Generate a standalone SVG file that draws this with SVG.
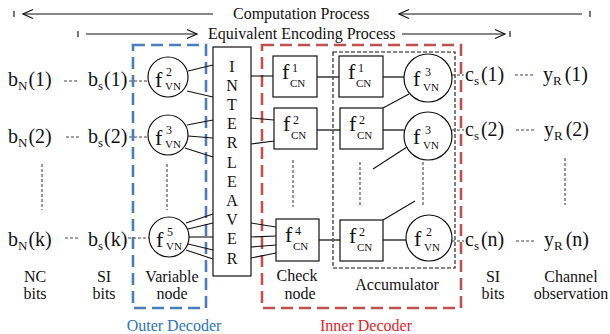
<svg xmlns="http://www.w3.org/2000/svg" width="610" height="334" viewBox="0 0 610 334">
  <style>
    text { font-family: "Liberation Serif", "Times New Roman", serif; fill: #111; }
    .t16 { font-size: 16px; }
    .big { font-size: 20px; }
    .sb { font-size: 13px; }
    .f { font-size: 22px; }
    .sup { font-size: 12px; }
    .sub { font-size: 11px; }
    .mid { text-anchor: middle; }
    .node { fill: #fff; stroke: #111; stroke-width: 1.2; }
    .edge { stroke: #111; stroke-width: 1.1; fill: none; }
    .link { stroke: #444; stroke-width: 1.6; fill: none; }
    .dots { stroke: #444; stroke-width: 1.1; stroke-dasharray: 3 2; fill: none; }
    .tick { stroke: #555; stroke-width: 1.6; }
    .arrow { stroke: #111; stroke-width: 1.2; fill: none; }
    .outer { fill: none; stroke: #4a7ebb; stroke-width: 2.6; stroke-dasharray: 12 6; }
    .inner { fill: none; stroke: #c0504d; stroke-width: 2.6; stroke-dasharray: 12 6; }
    .acc { fill: none; stroke: #111; stroke-width: 1.1; stroke-dasharray: 4 2; }
  </style>

  <!-- process arrows -->
  <g id="process-arrows">
    <line class="tick" x1="14" y1="11" x2="14" y2="17"/>
    <line class="arrow" x1="23" y1="14" x2="213" y2="14"/>
    <polyline class="arrow" points="33,9.5 23,14 33,18.5"/>
    <text class="t16" x="233" y="19">Computation Process</text>
    <line class="arrow" x1="399" y1="14" x2="582" y2="14"/>
    <polyline class="arrow" points="409,9.5 399,14 409,18.5"/>
    <line class="tick" x1="590" y1="11" x2="590" y2="17"/>

    <line class="tick" x1="78" y1="31" x2="78" y2="37"/>
    <line class="arrow" x1="86" y1="34" x2="197" y2="34"/>
    <polyline class="arrow" points="187,29.5 197,34 187,38.5"/>
    <text class="t16" x="208" y="39">Equivalent Encoding Process</text>
    <line class="arrow" x1="402" y1="34" x2="505" y2="34"/>
    <polyline class="arrow" points="495,29.5 505,34 495,38.5"/>
    <line class="tick" x1="510" y1="31" x2="510" y2="37"/>
  </g>

  <!-- decoder regions -->
  <g id="outer-decoder">
    <rect class="outer" x="133" y="45" width="73" height="263"/>
    <text class="t16 mid" x="174" y="331" style="fill:#2e75b6">Outer Decoder</text>
  </g>
  <g id="inner-decoder">
    <rect class="inner" x="262" y="45" width="199" height="263"/>
    <text class="t16 mid" x="366" y="331" style="fill:#e0242a">Inner Decoder</text>
  </g>
  <g id="accumulator">
    <rect class="acc" x="333" y="52" width="122" height="216"/>
    <text class="t16 mid" x="397" y="290">Accumulator</text>
  </g>

  <!-- connectors -->
  <g id="connectors">
    <!-- variable nodes to interleaver -->
    <line class="edge" x1="188" y1="71" x2="213" y2="65"/>
    <line class="edge" x1="187" y1="91" x2="213" y2="97"/>
    <line class="edge" x1="187" y1="125" x2="213" y2="120"/>
    <line class="edge" x1="188" y1="136" x2="213" y2="138"/>
    <line class="edge" x1="185" y1="148" x2="213" y2="157"/>
    <line class="edge" x1="186" y1="223" x2="213" y2="214"/>
    <line class="edge" x1="188" y1="229" x2="213" y2="223"/>
    <line class="edge" x1="189" y1="237" x2="213" y2="237"/>
    <line class="edge" x1="188" y1="244" x2="213" y2="250"/>
    <line class="edge" x1="186" y1="250" x2="213" y2="259"/>
    <!-- interleaver to check nodes -->
    <line class="edge" x1="251" y1="76" x2="273" y2="76"/>
    <line class="edge" x1="251" y1="118" x2="274" y2="120"/>
    <line class="edge" x1="251" y1="144" x2="274" y2="141"/>
    <line class="edge" x1="251" y1="223" x2="276" y2="227"/>
    <line class="edge" x1="251" y1="237" x2="276" y2="236"/>
    <line class="edge" x1="251" y1="247" x2="276" y2="245"/>
    <line class="edge" x1="251" y1="258" x2="276" y2="253"/>
    <!-- check nodes to accumulator -->
    <line class="link" x1="317" y1="77" x2="339" y2="77"/>
    <line class="link" x1="317" y1="130" x2="340" y2="130"/>
    <line class="link" x1="319" y1="240" x2="340" y2="240"/>
    <line class="link" x1="383" y1="77" x2="404" y2="77"/>
    <line class="link" x1="383" y1="130" x2="404" y2="130"/>
    <line class="link" x1="383" y1="240" x2="406" y2="240"/>
    <line class="edge" x1="383" y1="108" x2="409" y2="94"/>
    <line class="edge" x1="407" y1="147" x2="373" y2="169"/>
    <line class="edge" x1="383" y1="220" x2="415" y2="201"/>
    <!-- dashed links between bit labels -->
    <line class="dots" x1="64" y1="81" x2="78" y2="81"/>
    <line class="dots" x1="129" y1="81" x2="148" y2="81"/>
    <line class="dots" x1="66" y1="137" x2="80" y2="137"/>
    <line class="dots" x1="129" y1="137" x2="148" y2="137"/>
    <line class="dots" x1="65" y1="238" x2="80" y2="238"/>
    <line class="dots" x1="128" y1="238" x2="150" y2="238"/>
    <line class="dots" x1="452" y1="75" x2="464" y2="75"/>
    <line class="dots" x1="515" y1="75" x2="533" y2="75"/>
    <line class="dots" x1="452" y1="130" x2="464" y2="130"/>
    <line class="dots" x1="516" y1="130" x2="534" y2="130"/>
    <line class="dots" x1="452" y1="241" x2="464" y2="241"/>
    <line class="dots" x1="516" y1="241" x2="534" y2="241"/>
    <!-- vertical ellipses -->
    <line class="dots" x1="42" y1="164" x2="42" y2="210"/>
    <line class="dots" x1="167" y1="164" x2="167" y2="210"/>
    <line class="dots" x1="293" y1="160" x2="293" y2="207"/>
    <line class="dots" x1="360" y1="162" x2="360" y2="207"/>
    <line class="dots" x1="423" y1="162" x2="423" y2="207"/>
    <line class="dots" x1="565" y1="158" x2="565" y2="205"/>
  </g>

  <!-- NC bits -->
  <g id="nc-bits">
    <text class="big" x="8" y="86">b<tspan class="sb" dy="4">N</tspan><tspan dx="1" dy="-4">(1)</tspan></text>
    <text class="big" x="8" y="143">b<tspan class="sb" dy="4">N</tspan><tspan dx="1" dy="-4">(2)</tspan></text>
    <text class="big" x="8" y="246">b<tspan class="sb" dy="4">N</tspan><tspan dx="1" dy="-4">(k)</tspan></text>
    <text class="t16 mid" x="35" y="282">NC</text>
    <text class="t16 mid" x="35" y="299">bits</text>
  </g>

  <!-- SI bits (source side) -->
  <g id="si-bits-left">
    <text class="big" x="88" y="86">b<tspan class="sb" dy="4">s</tspan><tspan dx="1" dy="-4">(1)</tspan></text>
    <text class="big" x="88" y="143">b<tspan class="sb" dy="4">s</tspan><tspan dx="1" dy="-4">(2)</tspan></text>
    <text class="big" x="88" y="246">b<tspan class="sb" dy="4">s</tspan><tspan dx="1" dy="-4">(k)</tspan></text>
    <text class="t16 mid" x="104" y="282">SI</text>
    <text class="t16 mid" x="104" y="299">bits</text>
  </g>

  <!-- variable nodes -->
  <g id="vn-1">
    <circle class="node" cx="168" cy="77" r="20"/>
    <text><tspan class="f" x="155" y="87">f</tspan><tspan class="sup" x="166" y="76">2</tspan><tspan class="sub" x="165" y="90">VN</tspan></text>
  </g>
  <g id="vn-2">
    <circle class="node" cx="168" cy="135" r="20"/>
    <text><tspan class="f" x="155" y="145">f</tspan><tspan class="sup" x="166" y="134">3</tspan><tspan class="sub" x="165" y="148">VN</tspan></text>
  </g>
  <g id="vn-k">
    <circle class="node" cx="169" cy="237" r="20"/>
    <text><tspan class="f" x="156" y="247">f</tspan><tspan class="sup" x="167" y="236">5</tspan><tspan class="sub" x="166" y="250">VN</tspan></text>
  </g>
  <g id="vn-label">
    <text class="t16 mid" x="172" y="282">Variable</text>
    <text class="t16 mid" x="172" y="299">node</text>
  </g>

  <!-- interleaver -->
  <g id="interleaver">
    <rect class="node" x="213" y="47" width="38" height="229"/>
    <text class="t16 mid" x="232" y="71.5">I</text>
    <text class="t16 mid" x="232" y="90.7">N</text>
    <text class="t16 mid" x="232" y="109.9">T</text>
    <text class="t16 mid" x="232" y="129.1">E</text>
    <text class="t16 mid" x="232" y="148.3">R</text>
    <text class="t16 mid" x="232" y="167.5">L</text>
    <text class="t16 mid" x="232" y="186.7">E</text>
    <text class="t16 mid" x="232" y="205.9">A</text>
    <text class="t16 mid" x="232" y="225.1">V</text>
    <text class="t16 mid" x="232" y="244.3">E</text>
    <text class="t16 mid" x="232" y="263.5">R</text>
  </g>

  <!-- check nodes -->
  <g id="cn-1">
    <rect class="node" x="273" y="56" width="44" height="41"/>
    <text><tspan class="f" x="282" y="79">f</tspan><tspan class="sup" x="292" y="72">1</tspan><tspan class="sub" x="290" y="87">CN</tspan></text>
  </g>
  <g id="cn-2">
    <rect class="node" x="274" y="108" width="43" height="41"/>
    <text><tspan class="f" x="283" y="131">f</tspan><tspan class="sup" x="293" y="124">2</tspan><tspan class="sub" x="291" y="139">CN</tspan></text>
  </g>
  <g id="cn-k">
    <rect class="node" x="276" y="219" width="43" height="42"/>
    <text><tspan class="f" x="285" y="242">f</tspan><tspan class="sup" x="295" y="235">4</tspan><tspan class="sub" x="293" y="250">CN</tspan></text>
  </g>
  <g id="cn-label">
    <text class="t16 mid" x="297" y="281">Check</text>
    <text class="t16 mid" x="300" y="299">node</text>
  </g>

  <!-- accumulator check nodes -->
  <g id="acc-cn-1">
    <rect class="node" x="339" y="56" width="44" height="41"/>
    <text><tspan class="f" x="348" y="79">f</tspan><tspan class="sup" x="358" y="72">1</tspan><tspan class="sub" x="356" y="87">CN</tspan></text>
  </g>
  <g id="acc-cn-2">
    <rect class="node" x="340" y="108" width="43" height="41"/>
    <text><tspan class="f" x="349" y="131">f</tspan><tspan class="sup" x="359" y="124">2</tspan><tspan class="sub" x="357" y="139">CN</tspan></text>
  </g>
  <g id="acc-cn-k">
    <rect class="node" x="340" y="220" width="43" height="41"/>
    <text><tspan class="f" x="349" y="243">f</tspan><tspan class="sup" x="359" y="236">2</tspan><tspan class="sub" x="357" y="251">CN</tspan></text>
  </g>

  <!-- accumulator variable nodes -->
  <g id="acc-vn-1">
    <circle class="node" cx="428" cy="78" r="24"/>
    <text><tspan class="f" x="413" y="86">f</tspan><tspan class="sup" x="425" y="76">3</tspan><tspan class="sub" x="423" y="91">VN</tspan></text>
  </g>
  <g id="acc-vn-2">
    <circle class="node" cx="428" cy="136" r="24"/>
    <text><tspan class="f" x="413" y="144">f</tspan><tspan class="sup" x="425" y="134">3</tspan><tspan class="sub" x="423" y="149">VN</tspan></text>
  </g>
  <g id="acc-vn-k">
    <circle class="node" cx="429" cy="238" r="23"/>
    <text><tspan class="f" x="414" y="246">f</tspan><tspan class="sup" x="426" y="236">2</tspan><tspan class="sub" x="424" y="251">VN</tspan></text>
  </g>

  <!-- SI bits (channel side) -->
  <g id="si-bits-right">
    <text class="big" x="465" y="81">c<tspan class="sb" dy="4">s</tspan><tspan dx="2" dy="-4">(1)</tspan></text>
    <text class="big" x="465" y="136">c<tspan class="sb" dy="4">s</tspan><tspan dx="2" dy="-4">(2)</tspan></text>
    <text class="big" x="465" y="246">c<tspan class="sb" dy="4">s</tspan><tspan dx="2" dy="-4">(n)</tspan></text>
    <text class="t16 mid" x="493" y="282">SI</text>
    <text class="t16 mid" x="493" y="299">bits</text>
  </g>

  <!-- channel observations -->
  <g id="channel-obs">
    <text class="big" x="543" y="81">y<tspan class="sb" dy="4">R</tspan><tspan dx="3" dy="-4">(1)</tspan></text>
    <text class="big" x="544" y="136">y<tspan class="sb" dy="4">R</tspan><tspan dx="3" dy="-4">(2)</tspan></text>
    <text class="big" x="544" y="246">y<tspan class="sb" dy="4">R</tspan><tspan dx="3" dy="-4">(n)</tspan></text>
    <text class="t16 mid" x="571" y="282">Channel</text>
    <text class="t16 mid" x="571" y="299">observation</text>
  </g>
</svg>
